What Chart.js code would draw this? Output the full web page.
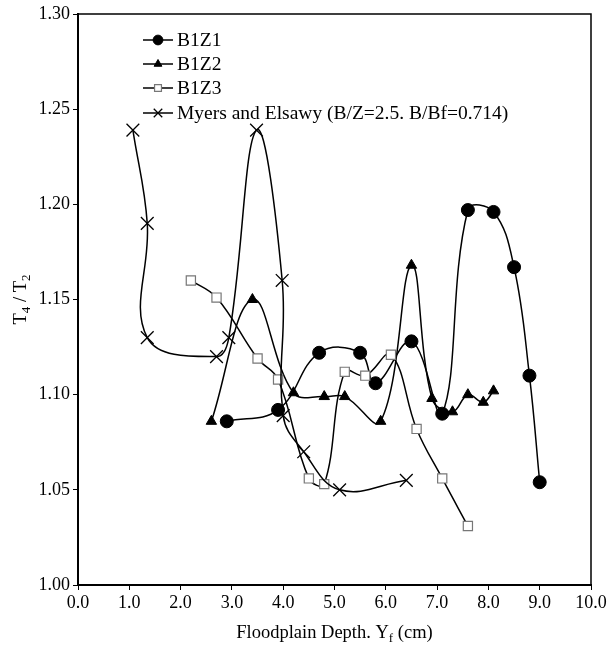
<!DOCTYPE html>
<html>
<head>
<meta charset="utf-8">
<script src="https://cdn.jsdelivr.net/npm/chart.js@4.4.1/dist/chart.umd.min.js"></script>
<style>
  html, body { margin: 0; padding: 0; background: #fff; }
  #wrap { width: 615px; height: 647px; }
</style>
</head>
<body>
<div id="wrap"><canvas id="chart" width="615" height="647"></canvas></div>
<script>
// data
const seriesNames = ['B1Z1', 'B1Z2', 'B1Z3', 'Myers and Elsawy (B/Z=2.5. B/Bf=0.714)'];

const b1z1X = [2.9, 3.9, 4.7, 5.5, 5.8, 6.5, 7.1, 7.6, 8.1, 8.5, 8.8, 9.0];
const b1z1Y = [1.086, 1.092, 1.122, 1.122, 1.106, 1.128, 1.090, 1.197, 1.196, 1.167, 1.110, 1.054];

const b1z2X = [2.6, 3.4, 4.2, 4.8, 5.2, 5.9, 6.5, 6.9, 7.3, 7.6, 7.9, 8.1];
const b1z2Y = [1.086, 1.150, 1.101, 1.099, 1.099, 1.086, 1.168, 1.098, 1.091, 1.100, 1.096, 1.102];

const b1z3X = [2.2, 2.7, 3.5, 3.9, 4.5, 4.8, 5.2, 5.6, 6.1, 6.6, 7.1, 7.6];
const b1z3Y = [1.160, 1.151, 1.119, 1.108, 1.056, 1.053, 1.112, 1.110, 1.121, 1.082, 1.056, 1.031];

const myersX = [1.07, 1.35, 1.35, 2.7, 2.94, 3.48, 3.98, 4.0, 4.4, 5.1, 6.4];
const myersY = [1.239, 1.190, 1.130, 1.120, 1.130, 1.239, 1.160, 1.089, 1.070, 1.050, 1.055];

const xTicks = [0, 1, 2, 3, 4, 5, 6, 7, 8, 9, 10];
const yTicks = [1.00, 1.05, 1.10, 1.15, 1.20, 1.25, 1.30];

const serif = '"Liberation Serif", "DejaVu Serif", serif';

function pts(xs, ys) {
  return xs.map(function (x, i) { return { x: x, y: ys[i] }; });
}

const styles = [
  { pointStyle: 'circle', radius: 6.5, bg: '#000', border: '#000', bw: 1 },
  { pointStyle: 'triangle', radius: 6, bg: '#000', border: '#000', bw: 1 },
  { pointStyle: 'rect', radius: 6.5, bg: '#fff', border: '#777', bw: 1.2 },
  { pointStyle: 'crossRot', radius: 9, bg: '#000', border: '#000', bw: 1.3 }
];

const seriesData = [pts(b1z1X, b1z1Y), pts(b1z2X, b1z2Y), pts(b1z3X, b1z3Y), pts(myersX, myersY)];

const datasets = seriesData.map(function (d, i) {
  const s = styles[i];
  return {
    label: seriesNames[i],
    data: d,
    showLine: true,
    tension: 0.4,
    borderColor: '#000',
    borderWidth: 1.5,
    pointStyle: s.pointStyle,
    pointRadius: s.radius,
    pointBackgroundColor: s.bg,
    pointBorderColor: s.border,
    pointBorderWidth: s.bw,
    order: 3 - i
  };
});

// frame, axis titles and in-plot legend
const decor = {
  id: 'decor',
  afterDraw: function (chart) {
    const ctx = chart.ctx;
    const a = chart.chartArea;
    ctx.save();
    ctx.strokeStyle = '#000';
    ctx.lineWidth = 1.5;
    ctx.beginPath();
    ctx.moveTo(a.left, a.top);
    ctx.lineTo(a.right, a.top);
    ctx.lineTo(a.right, a.bottom);
    ctx.stroke();

    ctx.fillStyle = '#000';
    ctx.textBaseline = 'alphabetic';

    // x title with subscript
    const big = '18.5px ' + serif, small = '13px ' + serif;
    const parts = [['Floodplain Depth. Y', big, 0], ['f', small, 4], [' (cm)', big, 0]];
    let w = 0;
    parts.forEach(function (p) { ctx.font = p[1]; w += ctx.measureText(p[0]).width; });
    let x = (a.left + a.right) / 2 - w / 2;
    parts.forEach(function (p) {
      ctx.font = p[1];
      ctx.textAlign = 'left';
      ctx.fillText(p[0], x, 638 + p[2]);
      x += ctx.measureText(p[0]).width;
    });

    // y title, rotated
    const yparts = [['T', big, 0], ['4', small, 4], [' / T', big, 0], ['2', small, 4]];
    w = 0;
    yparts.forEach(function (p) { ctx.font = p[1]; w += ctx.measureText(p[0]).width; });
    ctx.translate(26, (a.top + a.bottom) / 2);
    ctx.rotate(-Math.PI / 2);
    x = -w / 2;
    yparts.forEach(function (p) {
      ctx.font = p[1];
      ctx.fillText(p[0], x, p[2]);
      x += ctx.measureText(p[0]).width;
    });
    ctx.restore();

    // legend
    ctx.save();
    const rowY = [40, 64, 88, 113];
    chart.data.datasets.forEach(function (ds, i) {
      const y = rowY[i];
      ctx.strokeStyle = '#000';
      ctx.lineWidth = 1.5;
      ctx.beginPath();
      ctx.moveTo(143, y);
      ctx.lineTo(173, y);
      ctx.stroke();
      ctx.fillStyle = ds.pointBackgroundColor;
      ctx.strokeStyle = ds.pointBorderColor;
      ctx.lineWidth = ds.pointBorderWidth;
      Chart.helpers.drawPoint(ctx, {
        pointStyle: ds.pointStyle,
        radius: ds.pointStyle === 'crossRot' ? 6 : ds.pointRadius * 0.75,
        rotation: 0,
        borderWidth: ds.pointBorderWidth
      }, 158, y);
      ctx.fillStyle = '#000';
      ctx.font = '19.5px ' + serif;
      ctx.textAlign = 'left';
      ctx.textBaseline = 'middle';
      ctx.fillText(ds.label, 177, y + 1);
    });
    ctx.restore();
  }
};

new Chart(document.getElementById('chart'), {
  type: 'scatter',
  data: { datasets: datasets },
  options: {
    responsive: false,
    animation: false,
    layout: { padding: { top: 14, right: 24, left: 0, bottom: 0 } },
    plugins: { legend: { display: false }, tooltip: { enabled: false } },
    scales: {
      x: {
        type: 'linear',
        min: 0,
        max: 10,
        afterFit: function (s) { s.height = 62; },
        afterBuildTicks: function (s) { s.ticks = xTicks.map(function (v) { return { value: v }; }); },
        ticks: {
          color: '#000',
          padding: 2,
          maxRotation: 0,
          font: { family: serif, size: 18 },
          callback: function (v) { return Number(v).toFixed(1); }
        },
        grid: { drawOnChartArea: false, drawTicks: true, tickLength: 5, color: '#000', lineWidth: 1 },
        border: { display: true, color: '#000', width: 2 }
      },
      y: {
        type: 'linear',
        min: 1.0,
        max: 1.3,
        afterFit: function (s) { s.width = 78; },
        afterBuildTicks: function (s) { s.ticks = yTicks.map(function (v) { return { value: v }; }); },
        ticks: {
          color: '#000',
          padding: 3,
          font: { family: serif, size: 18 },
          callback: function (v) { return Number(v).toFixed(2); }
        },
        grid: { drawOnChartArea: false, drawTicks: true, tickLength: 5, color: '#000', lineWidth: 1 },
        border: { display: true, color: '#000', width: 2 }
      }
    }
  },
  plugins: [decor]
});
</script>
</body>
</html>
